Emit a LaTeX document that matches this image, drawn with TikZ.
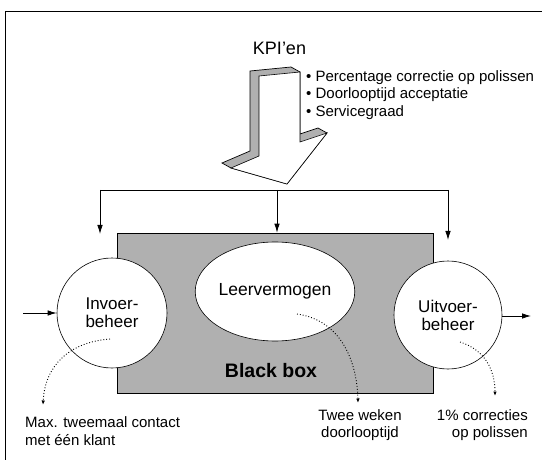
\documentclass[tikz,border=0pt]{standalone}
\usepackage{fontspec}
\setmainfont{Liberation Sans}
\usetikzlibrary{shapes.geometric,arrows.meta}
\definecolor{boxgray}{RGB}{176,176,176}
\tikzset{
  lbl/.style={inner sep=0pt, font=\fontsize{15}{17.5}\selectfont},
  bubble/.style={draw=black, line width=0.6pt, fill=white, inner sep=0pt, align=center, font=\fontsize{17}{18}\selectfont},
  feed/.style={line width=0.8pt, -{Latex[length=9pt,width=5.5pt]}},
  dotarr/.style={dotted, line width=0.9pt, -{Latex[length=4.5pt,width=3.5pt]}},
  frameline/.style={line width=1pt}
}
\begin{document}
\begin{tikzpicture}[x=1pt,y=-1pt]
\useasboundingbox (0,0) rectangle (542,460);
% frame
\coordinate (fl) at (5,460);
\coordinate (fc) at (5,12);
\coordinate (fr) at (542,12);
\draw[frameline] (fl) -- (fc) -- (fr);

% title
\node[inner sep=0pt, font=\fontsize{18}{20}\selectfont] (kpi) at (279.5,48) {KPI’en};
\node[lbl, anchor=west, align=left] (list) at (306,95) {• Percentage correctie op polissen\\• Doorlooptijd acceptatie\\• Servicegraad};

% block arrow (3D)
\fill[boxgray, draw=black, line width=0.7pt]
  (222,163) -- (250,151) -- (250,71) -- (291,67) -- (300,72) -- (300,134)
  -- (318,128) -- (327,133) -- (287,184) -- (231,168) -- cycle;
\draw[fill=white, line width=0.6pt]
  (259,76) -- (300,72) -- (300,142) -- (327,133) -- (287,184) -- (231,168) -- (259,156) -- cycle;

% black box
\node[draw=black, line width=0.7pt, fill=boxgray, minimum width=316pt, minimum height=160pt, inner sep=0pt] (box) at (275,313) {};
\node[inner sep=0pt, font=\bfseries\fontsize{19.5}{20}\selectfont] (bb) at (271,371) {Black box};

% bubbles
\node[bubble, circle, minimum size=110pt] (in) at (112,313) {Invoer-\\beheer};
\node[bubble, circle, minimum size=108pt] (out) at (448,315) {Uitvoer-\\beheer};
\node[bubble, ellipse, minimum width=146pt, minimum height=99pt, font=\fontsize{17.5}{18}\selectfont] (lv) at (275,291.5) {Leervermogen};

% top distribution arrows
\coordinate (hl) at (100,190);
\coordinate (hm) at (277,190);
\coordinate (hr) at (448,190);
\coordinate (el) at (100,234);
\coordinate (er) at (448,240);
\draw[line width=0.8pt] (hl) -- (hr);
\draw[feed] (hl) -- (el);
\draw[feed] (hm) -- (hm |- box.north);
\draw[feed] (hr) -- (er);

% input / output
\coordinate (inl) at (23,313);
\coordinate (outr) at (531,316);
\draw[feed] (inl) -- (in.west);
\draw[feed] (out.east |- outr) -- (outr);

% bottom labels
\node[lbl, anchor=west, align=left] (l1) at (25,431) {Max. tweemaal contact\\met één klant};
\node[lbl, align=center] (l2) at (360,425) {Twee weken\\doorlooptijd};
\node[lbl, anchor=east, align=right] (l3) at (528,425) {1\% correcties\\op polissen};

% dotted pointers
\coordinate (s1) at (110,339);
\coordinate (t1) at (43,405);
\coordinate (s2) at (297,314);
\coordinate (t2) at (358,403);
\coordinate (s3) at (460,342);
\coordinate (t3) at (495,396);
\draw[dotarr] (s1) .. controls (70,342) and (45,365) .. (t1);
\draw[dotarr] (s2) .. controls (340,320) and (357,360) .. (t2);
\draw[dotarr] (s3) .. controls (485,350) and (495,370) .. (t3);
\end{tikzpicture}
\end{document}
